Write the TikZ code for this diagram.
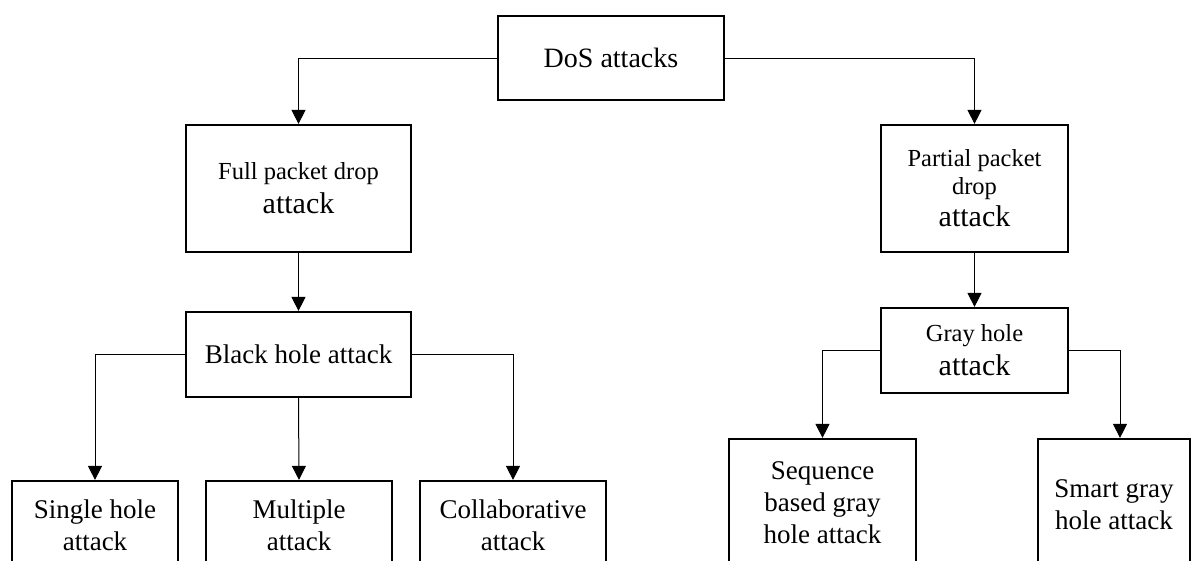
\documentclass[tikz,border=0pt]{standalone}
\usepackage{fontspec}
\setmainfont{Liberation Serif}
\usetikzlibrary{arrows.meta}
\tikzset{
  box/.style={draw, line width=2.2pt, rectangle, inner sep=0pt, align=center},
  link/.style={line width=1pt, -{Triangle[width=14pt,length=14pt]}},
  big/.style={font=\fontsize{28}{32}\selectfont},
  mid/.style={font=\fontsize{27}{32}\selectfont},
}
\newcommand{\smallline}{\fontsize{24.5}{31}\selectfont}
\newcommand{\bigline}{\fontsize{30}{33}\selectfont}
\begin{document}
\begin{tikzpicture}[x=1pt,y=-1pt]
\useasboundingbox (0,0) rectangle (1191,560);
\clip (0,0) rectangle (1191,560);

% root
\node[box, big, minimum width=226pt, minimum height=84pt] (dos) at (611,58) {DoS attacks};

% second level
\node[box, minimum width=225pt, minimum height=127pt] (full) at (298.5,188.5)
  {\smallline Full packet drop\\[7pt]\bigline attack};
\node[box, minimum width=187pt, minimum height=127pt] (partial) at (974.5,188.5)
  {\smallline Partial packet\\[5pt]\smallline drop\\[5pt]\bigline attack};

% third level
\node[box, mid, minimum width=225pt, minimum height=85pt] (black) at (298.5,354.5) {Black hole attack};
\node[box, minimum width=187pt, minimum height=85pt] (gray) at (974.5,350.5)
  {\smallline Gray hole\\[7pt]\bigline attack};

% leaves
\node[box, mid, minimum width=166pt, minimum height=88pt] (single) at (95,525) {Single hole\\attack};
\node[box, mid, minimum width=186pt, minimum height=88pt] (multiple) at (299,525) {Multiple\\attack};
\node[box, mid, minimum width=186pt, minimum height=88pt] (collab) at (513,525) {Collaborative\\attack};
\node[box, mid, minimum width=187pt, minimum height=128pt] (seq) at (822.5,503) {Sequence\\based gray\\hole attack};
\node[box, mid, minimum width=152pt, minimum height=132pt] (smart) at (1114,505) {Smart gray\\hole attack};

% connectors
\draw[link] (dos.west) -| (full.north);
\draw[link] (dos.east) -| (partial.north);
\draw[link] (full.south) -- (black.north);
\draw[link] (partial.south) -- (gray.north);
\draw[link] (black.west) -| (single.north);
\draw[link] (black.south) -- (multiple.north);
\draw[link] (black.east) -| (collab.north);
\draw[link] (gray.west) -| (seq.north);
\draw[link] (gray.east) -| ([xshift=6pt]smart.north);
\end{tikzpicture}
\end{document}
